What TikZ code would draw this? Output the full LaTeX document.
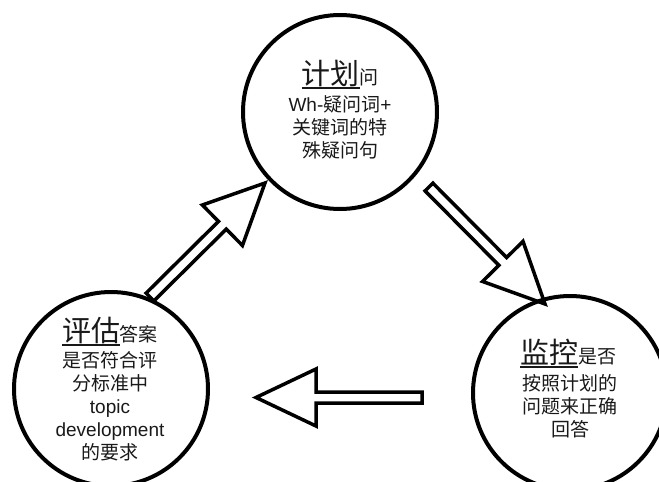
\documentclass[tikz,border=0pt]{standalone}
\usepackage{fontspec}
\setmainfont{Noto Sans CJK SC}
\newfontfamily\lat{Liberation Sans}
\usetikzlibrary{calc}
\newcommand\titlefont{\fontsize{29}{29}\selectfont}
\newcommand\bodyfont{\fontsize{19}{23}\selectfont}
\newcommand\myul[1]{\vtop{\hbox{\raisebox{0pt}[\height][0pt]{#1}}\kern3pt\hrule height 1.8pt}}
\newcommand\blockarrow[2]{%
 \draw[blockarrowstyle] let \p1=(#1), \p2=(#2), \n1={atan2(\y2-\y1,\x2-\x1)}, \n2={veclen(\x2-\x1,\y2-\y1)} in
 ([shift={(\p1)},rotate=\n1]0,5.5) -- ([shift={(\p1)},rotate=\n1]\n2-60,5.5) -- ([shift={(\p1)},rotate=\n1]\n2-60,28.5) -- ([shift={(\p1)},rotate=\n1]\n2,0) -- ([shift={(\p1)},rotate=\n1]\n2-60,-28.5) -- ([shift={(\p1)},rotate=\n1]\n2-60,-5.5) -- ([shift={(\p1)},rotate=\n1]0,-5.5) -- cycle;}
\tikzset{
  blockarrowstyle/.style={draw=black, fill=white, line width=3.5pt, miter limit=10},
  circ/.style={draw=black, circle, line width=4pt, minimum size=194pt, inner sep=0pt},
  titleline/.style={anchor=base, inner sep=0pt, font=\bodyfont, text=black!90},
  bodyline/.style={anchor=base, inner sep=0pt, font=\bodyfont, text=black!90},
}
\begin{document}
\begin{tikzpicture}[x=1pt,y=-1pt]
\useasboundingbox (0,0) rectangle (659,482);
\clip (0,0) rectangle (659,482);
% arrow end points
\coordinate (a1s) at (150,297);
\coordinate (a1e) at (265,183);
\coordinate (a2s) at (429,187);
\coordinate (a2e) at (545,304);
\coordinate (a3s) at (422,397.5);
\coordinate (a3e) at (256,397.5);
\blockarrow{a1s}{a1e}
\blockarrow{a2s}{a2e}
\blockarrow{a3s}{a3e}
% circles
\node[circ] (plan) at (340,112) {};
\node[circ] (eval) at (111,389) {};
\node[circ] (mon) at (570,393) {};
% top circle text
\node[titleline] (planT) at (340,84) {\myul{\titlefont 计划}问};
\node[bodyline] (planL1) at (340,111) {{\lat Wh-}疑问词{\lat +}};
\node[bodyline] (planL2) at (340,134) {关键词的特};
\node[bodyline] (planL3) at (340,157) {殊疑问句};
% left circle text
\node[titleline] (evalT) at (110,341) {\myul{\titlefont 评估}答案};
\node[bodyline] (evalL1) at (110,367) {是否符合评};
\node[bodyline] (evalL2) at (110,390) {分标准中};
\node[bodyline] (evalL3) at (110,413) {\lat topic};
\node[bodyline] (evalL4) at (110,436) {\lat development};
\node[bodyline] (evalL5) at (110,459) {的要求};
% right circle text
\node[titleline] (monT) at (568,363) {\myul{\titlefont 监控}是否};
\node[bodyline] (monL1) at (570,390) {按照计划的};
\node[bodyline] (monL2) at (570,413) {问题来正确};
\node[bodyline] (monL3) at (570,436) {回答};
\end{tikzpicture}
\end{document}
